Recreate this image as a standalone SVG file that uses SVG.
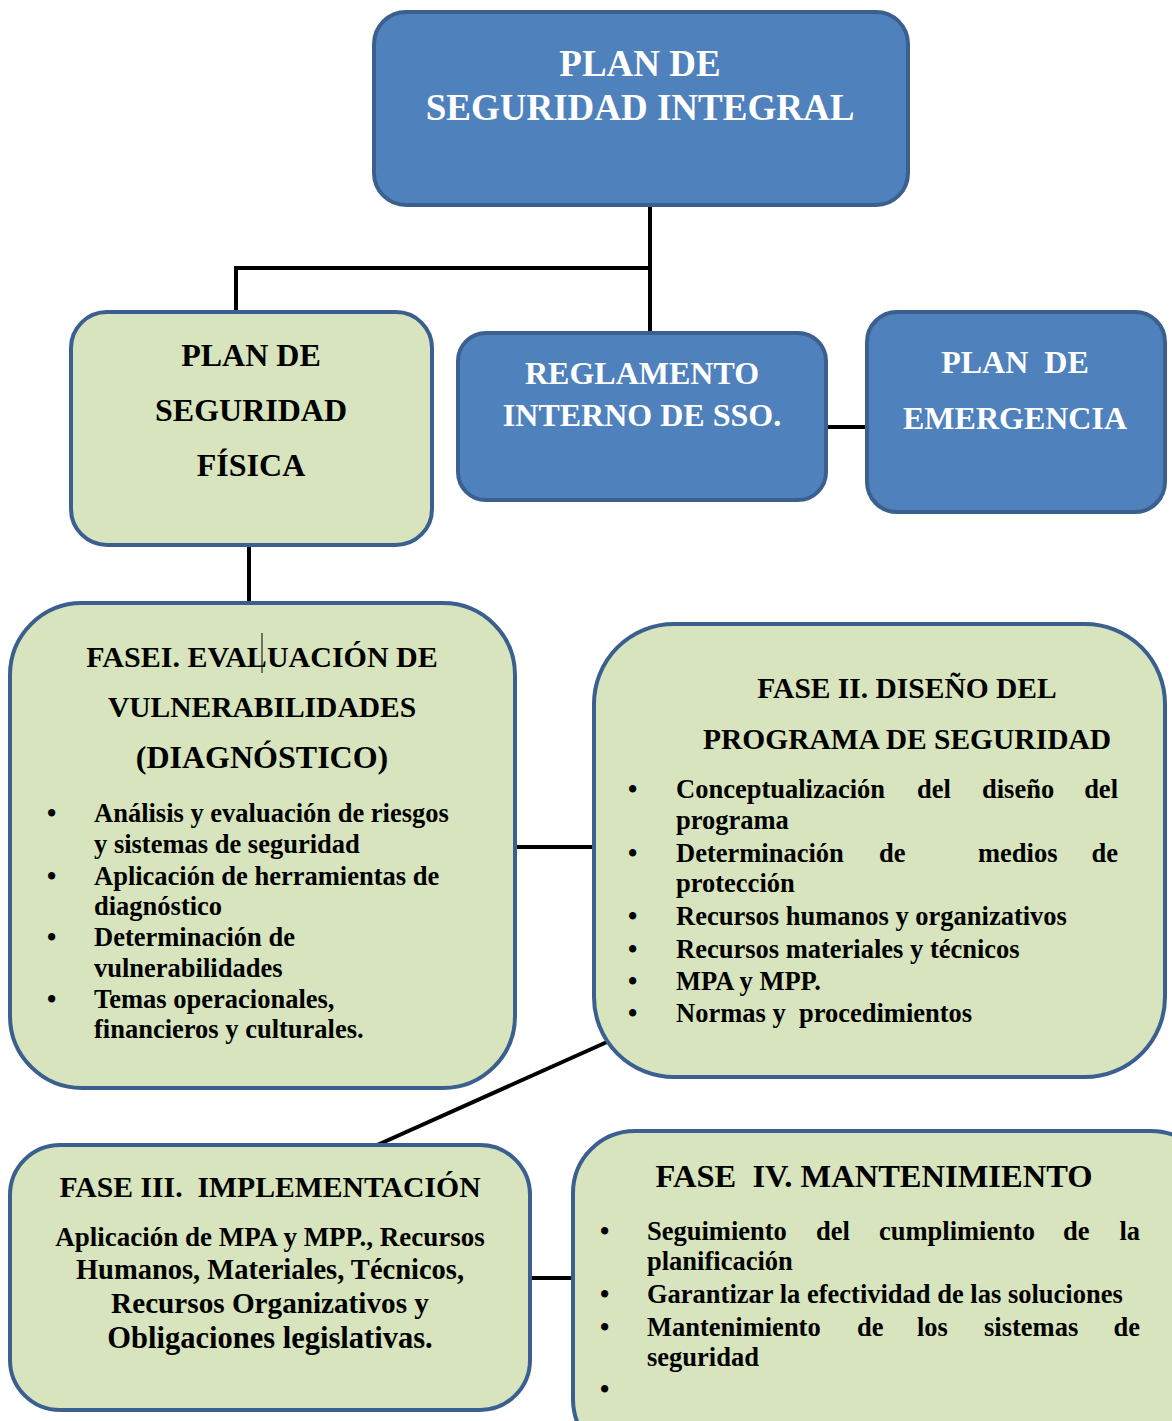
<svg xmlns="http://www.w3.org/2000/svg" width="1172" height="1421" viewBox="0 0 1172 1421">
<style>
text{font-family:"Liberation Serif","Times New Roman",serif;font-weight:bold;}
.blue{fill:#4F81BD;stroke:#3B6090;stroke-width:4;}
.green{fill:#D7E4BD;stroke:#3B6090;stroke-width:4;}
.w{fill:#FFFFFF;}
.k{fill:#000000;}
.c{text-anchor:middle;}
.e{text-anchor:end;}
.b24{font-size:26.5px;}
.con{stroke:#000;fill:none;stroke-width:4;}
</style>
<rect width="1172" height="1421" fill="#FFFFFF"/>
<g id="connectors">
<polyline class="con" points="650,206 650,334"/>
<polyline class="con" points="650,268 236,268 236,313"/>
<line class="con" x1="826" y1="427" x2="868" y2="427" stroke-width="6"/>
<line class="con" x1="249" y1="545" x2="249" y2="604"/>
<line class="con" x1="515" y1="847" x2="596" y2="847" stroke-width="5"/>
<line class="con" x1="607" y1="1042" x2="375" y2="1146"/>
<line class="con" x1="530" y1="1278" x2="575" y2="1278" stroke-width="5"/>
</g>
<g id="plan-integral">
<rect class="blue" x="374" y="12" width="534" height="193" rx="32"/>
<text class="w c" x="640" y="76" font-size="37">PLAN DE</text>
<text class="w c" x="640" y="120" font-size="37">SEGURIDAD INTEGRAL</text>
</g>
<g id="plan-fisica">
<rect class="green" x="71" y="312" width="361" height="233" rx="36"/>
<text class="k c" x="251" y="366" font-size="32">PLAN DE</text>
<text class="k c" x="251" y="421" font-size="32">SEGURIDAD</text>
<text class="k c" x="251" y="476" font-size="32">FÍSICA</text>
</g>
<g id="reglamento">
<rect class="blue" x="458" y="333" width="368" height="167" rx="28"/>
<text class="w c" x="642" y="384" font-size="32">REGLAMENTO</text>
<text class="w c" x="642" y="426" font-size="32">INTERNO DE SSO.</text>
</g>
<g id="plan-emergencia">
<rect class="blue" x="867" y="312" width="298" height="200" rx="30"/>
<text class="w c" x="1015" y="373" font-size="32" xml:space="preserve">PLAN  DE</text>
<text class="w c" x="1015" y="429" font-size="32">EMERGENCIA</text>
</g>
<g id="fase1">
<rect class="green" x="10" y="603" width="505" height="485" rx="72"/>
<text class="k c" x="262" y="667" font-size="30">FASEI. EVALUACIÓN DE</text>
<line x1="262" y1="633" x2="262" y2="673" stroke="#000" stroke-width="1"/>
<text class="k c" x="262" y="717" font-size="29.5">VULNERABILIDADES</text>
<text class="k c" x="262" y="768" font-size="32">(DIAGNÓSTICO)</text>
<g class="b24">
<text class="k" x="47" y="822">•</text>
<text class="k" x="94" y="822">Análisis y evaluación de riesgos</text>
<text class="k" x="94" y="853">y sistemas de seguridad</text>
<text class="k" x="47" y="885">•</text>
<text class="k" x="94" y="885">Aplicación de herramientas de</text>
<text class="k" x="94" y="915">diagnóstico</text>
<text class="k" x="47" y="946">•</text>
<text class="k" x="94" y="946">Determinación de</text>
<text class="k" x="94" y="977">vulnerabilidades</text>
<text class="k" x="47" y="1008">•</text>
<text class="k" x="94" y="1008">Temas operacionales,</text>
<text class="k" x="94" y="1038">financieros y culturales.</text>
</g>
</g>
<g id="fase2">
<rect class="green" x="594" y="624" width="571" height="453" rx="80"/>
<text class="k c" x="907" y="698" font-size="29.5">FASE II. DISEÑO DEL</text>
<text class="k c" x="907" y="749" font-size="29.5">PROGRAMA DE SEGURIDAD</text>
<g class="b24">
<text class="k" x="628" y="798">•</text>
<text class="k" x="676" y="798">Conceptualización</text>
<text class="k" x="917" y="798">del</text>
<text class="k" x="982" y="798">diseño</text>
<text class="k e" x="1118" y="798">del</text>
<text class="k" x="676" y="829">programa</text>
<text class="k" x="628" y="862">•</text>
<text class="k" x="676" y="862">Determinación</text>
<text class="k" x="879" y="862">de</text>
<text class="k" x="978" y="862">medios</text>
<text class="k e" x="1118" y="862">de</text>
<text class="k" x="676" y="892">protección</text>
<text class="k" x="628" y="925">•</text>
<text class="k" x="676" y="925">Recursos humanos y organizativos</text>
<text class="k" x="628" y="958">•</text>
<text class="k" x="676" y="958">Recursos materiales y técnicos</text>
<text class="k" x="628" y="990">•</text>
<text class="k" x="676" y="990">MPA y MPP.</text>
<text class="k" x="628" y="1022">•</text>
<text class="k" x="676" y="1022" xml:space="preserve">Normas y  procedimientos</text>
</g>
</g>
<g id="fase3">
<rect class="green" x="10" y="1145" width="520" height="265" rx="50"/>
<text class="k c" x="270" y="1197" font-size="29.7" xml:space="preserve">FASE III.  IMPLEMENTACIÓN</text>
<text class="k c" x="270" y="1246" font-size="27">Aplicación de MPA y MPP., Recursos</text>
<text class="k c" x="270" y="1279" font-size="28.5">Humanos, Materiales, Técnicos,</text>
<text class="k c" x="270" y="1313" font-size="29.2">Recursos Organizativos y</text>
<text class="k c" x="270" y="1348" font-size="30.5">Obligaciones legislativas.</text>
</g>
<g id="fase4">
<rect class="green" x="573" y="1131" width="640" height="330" rx="62"/>
<text class="k c" x="874" y="1187" font-size="32.5" xml:space="preserve">FASE  IV. MANTENIMIENTO</text>
<g class="b24">
<text class="k" x="600" y="1240">•</text>
<text class="k" x="647" y="1240">Seguimiento</text>
<text class="k" x="816" y="1240">del</text>
<text class="k" x="879" y="1240">cumplimiento</text>
<text class="k" x="1063" y="1240">de</text>
<text class="k e" x="1140" y="1240">la</text>
<text class="k" x="647" y="1270">planificación</text>
<text class="k" x="600" y="1303">•</text>
<text class="k" x="647" y="1303">Garantizar la efectividad de las soluciones</text>
<text class="k" x="600" y="1336">•</text>
<text class="k" x="647" y="1336">Mantenimiento</text>
<text class="k" x="857" y="1336">de</text>
<text class="k" x="917" y="1336">los</text>
<text class="k" x="984" y="1336">sistemas</text>
<text class="k e" x="1140" y="1336">de</text>
<text class="k" x="647" y="1366">seguridad</text>
<text class="k" x="600" y="1398">•</text>
</g>
</g>
</svg>
